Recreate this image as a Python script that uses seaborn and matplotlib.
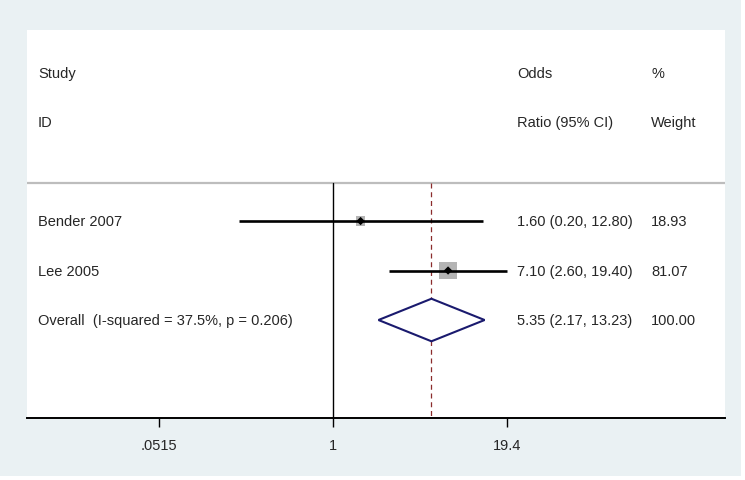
import numpy as np
import pandas as pd
import matplotlib
matplotlib.use("Agg")
import matplotlib.pyplot as plt
import seaborn as sns
from matplotlib.patches import Rectangle, Polygon

# ---------------- data ----------------
studies = ["Bender 2007", "Lee 2005"]
odds_ratio = [1.60, 7.10]
ci_low = [0.20, 2.60]
ci_high = [12.80, 19.40]
weights = [18.93, 81.07]

overall_label = "Overall  (I-squared = 37.5%, p = 0.206)"
overall_or = 5.35
overall_low = 2.17
overall_high = 13.23
overall_weight = 100.00

tick_values = [0.0515, 1, 19.4]
tick_labels = [".0515", "1", "19.4"]

header_left = ["Study", "ID"]
header_mid = ["Odds", "Ratio (95% CI)"]
header_right = ["%", "Weight"]

# ---------------- style ----------------
sns.set_style("white")
plt.rcParams['font.family'] = ['Liberation Sans', 'DejaVu Sans']
FS = 10.5
OUTER = "#eaf1f3"
NAVY = "#1a1a6e"
MAROON = "#8b2c2c"
BOXGREY = "#b4b4b4"

W, H = 745, 481
fig = plt.figure(figsize=(W / 100, H / 100), dpi=100, facecolor="white")
fig.patches.append(Rectangle((0, (H - 477) / H), 741 / W, 477 / H,
                             transform=fig.transFigure, facecolor=OUTER,
                             edgecolor="none", zorder=-10))

px_l, px_r, px_t, px_b = 27, 725, 31, 419
ax = fig.add_axes([px_l / W, (H - px_b) / H, (px_r - px_l) / W, (px_b - px_t) / H])
ax.set_facecolor("white")

ax.set_xscale("log")
ax.set_xlim(np.exp(-5.213), np.exp(6.678))
ax.set_ylim(3.98, -3.86)

df = pd.DataFrame({"study": studies, "or": odds_ratio, "lo": ci_low,
                   "hi": ci_high, "w": weights, "row": np.arange(len(studies))})

# separator line
sep_y = -0.77
ax.axhline(sep_y, color="#bdbdbd", lw=1.6, zorder=1)

# null line and overall dashed line
ax.plot([1, 1], [sep_y, 3.98], color="black", lw=1.0, zorder=2)
ax.plot([overall_or, overall_or], [sep_y, 3.98], color=MAROON, lw=0.9,
        ls=(0, (4, 3)), zorder=2)

# weight boxes
sns.scatterplot(data=df, x="or", y="row", size="w", sizes=(45, 152),
                size_norm=(min(weights), max(weights)), marker="s",
                color=BOXGREY, edgecolor="none", legend=False, ax=ax, zorder=3)
# CI lines
for _, r in df.iterrows():
    ax.plot([r["lo"], r["hi"]], [r["row"], r["row"]], color="black", lw=1.9,
            zorder=4, solid_capstyle="butt")
# point estimates
sns.scatterplot(data=df, x="or", y="row", marker="D", s=18, color="black",
                edgecolor="none", legend=False, ax=ax, zorder=5)

# overall diamond
orow = len(studies)
hh = 0.43
diamond = Polygon([(overall_low, orow), (overall_or, orow - hh),
                   (overall_high, orow), (overall_or, orow + hh)],
                  closed=True, facecolor="white", edgecolor=NAVY, lw=1.5, zorder=4)
ax.add_patch(diamond)

# text columns
trans = ax.get_yaxis_transform()
x_left, x_mid, x_right = 0.0158, 0.702, 0.894
for i, (a, b, c) in enumerate(zip(header_left, header_mid, header_right)):
    y = -3 + i
    ax.text(x_left, y, a, transform=trans, va="center", ha="left", fontsize=FS)
    ax.text(x_mid, y, b, transform=trans, va="center", ha="left", fontsize=FS)
    ax.text(x_right, y, c, transform=trans, va="center", ha="left", fontsize=FS)

for _, r in df.iterrows():
    ax.text(x_left, r["row"], r["study"], transform=trans, va="center", ha="left", fontsize=FS)
    ax.text(x_mid, r["row"], f"{r['or']:.2f} ({r['lo']:.2f}, {r['hi']:.2f})",
            transform=trans, va="center", ha="left", fontsize=FS)
    ax.text(x_right, r["row"], f"{r['w']:.2f}", transform=trans, va="center",
            ha="left", fontsize=FS)

ax.text(x_left, orow, overall_label, transform=trans, va="center", ha="left", fontsize=FS)
ax.text(x_mid, orow, f"{overall_or:.2f} ({overall_low:.2f}, {overall_high:.2f})",
        transform=trans, va="center", ha="left", fontsize=FS)
ax.text(x_right, orow, f"{overall_weight:.2f}", transform=trans, va="center",
        ha="left", fontsize=FS)

# axes styling
for s in ["left", "right", "top"]:
    ax.spines[s].set_visible(False)
ax.spines["bottom"].set_color("black")
ax.spines["bottom"].set_linewidth(1.4)
ax.set_yticks([])
ax.set_xticks(tick_values)
ax.set_xticklabels(tick_labels)
ax.xaxis.set_minor_locator(matplotlib.ticker.NullLocator())
ax.tick_params(axis="x", direction="out", length=6.5, width=1.0, color="black",
               labelsize=FS, pad=8, bottom=True)
ax.set_xlabel("")
ax.set_ylabel("")

fig.savefig("out.png", dpi=100, facecolor=fig.get_facecolor())
